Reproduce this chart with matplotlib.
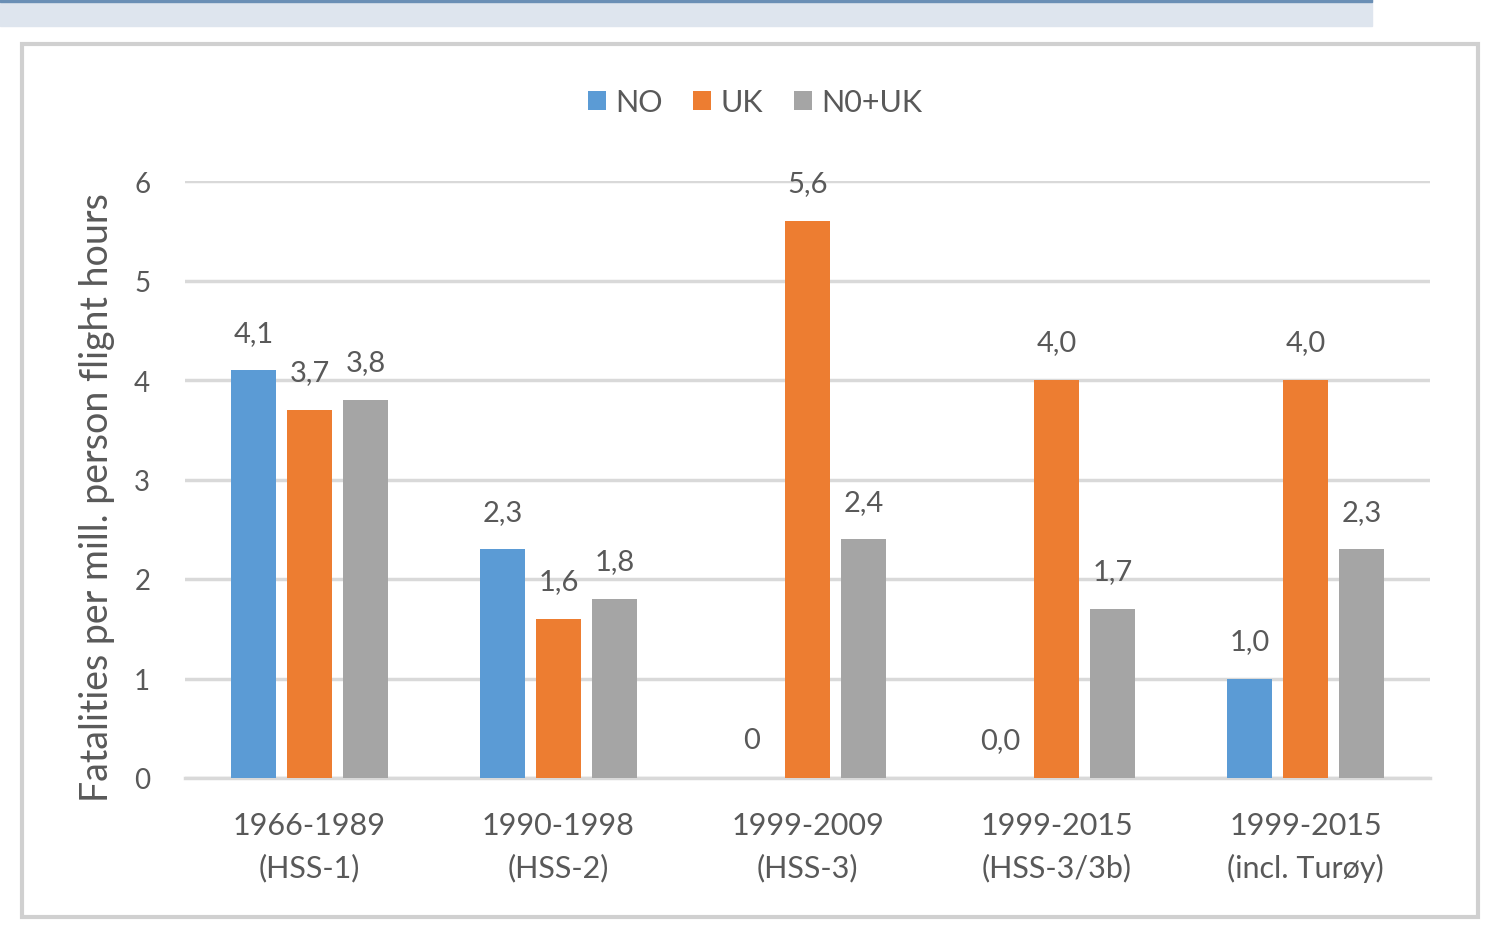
import matplotlib.pyplot as plt
import matplotlib.patches as mpatches
import numpy as np

plt.rcParams['font.family'] = ['Lato', 'DejaVu Sans']

# data
periods = ['1966-1989\n(HSS-1)', '1990-1998\n(HSS-2)', '1999-2009\n(HSS-3)',
           '1999-2015\n(HSS-3/3b)', '1999-2015\n(incl. Turøy)']
series = ['NO', 'UK', 'N0+UK']
no_vals = [4.1, 2.3, 0.0, 0.0, 1.0]
uk_vals = [3.7, 1.6, 5.6, 4.0, 4.0]
all_vals = [3.8, 1.8, 2.4, 1.7, 2.3]
no_labels = ['4,1', '2,3', '0', '0,0', '1,0']
uk_labels = ['3,7', '1,6', '5,6', '4,0', '4,0']
all_labels = ['3,8', '1,8', '2,4', '1,7', '2,3']
colors = ['#5B9BD5', '#ED7D31', '#A5A5A5']
txt = '#595959'

fig = plt.figure(figsize=(14.98, 9.37), dpi=100)

# screenshot surroundings: top strip and chart frame
fig.patches.append(mpatches.Rectangle((0, 1 - 27/937), 1372/1498, 27/937,
                                      transform=fig.transFigure, color='#DEE5EE', zorder=0))
fig.patches.append(mpatches.Rectangle((0, 1 - 3/937), 1372/1498, 3/937,
                                      transform=fig.transFigure, color='#6A8FB5', zorder=0))
fig.patches.append(mpatches.Rectangle((22/1498, 1 - 918/937), 1456/1498, 873/937,
                                      transform=fig.transFigure, facecolor='white',
                                      edgecolor='#D0D0D0', lw=3, zorder=0))

ax = fig.add_axes([185/1498, 1 - 779/937, 1245/1498, 597/937])
ax.set_zorder(2)
ax.set_facecolor('none')

x = np.arange(len(periods))
w = 0.177
step = 0.225
for i, (vals, labs) in enumerate(zip([no_vals, uk_vals, all_vals],
                                     [no_labels, uk_labels, all_labels])):
    pos = x + (i - 1) * step
    ax.bar(pos, vals, width=w, color=colors[i], label=series[i], zorder=3)
    for px, v, lab in zip(pos, vals, labs):
        ax.annotate(lab, (px, v), xytext=(0, 27), textcoords='offset points',
                    ha='center', va='center', fontsize=21, color=txt)

ax.set_xlim(-0.5, len(periods) - 0.5)
ax.set_ylim(0, 6)
ax.set_yticks(range(0, 7))
ax.yaxis.grid(True, color='#D9D9D9', lw=2.5, zorder=0)
for s in ['top', 'right', 'left']:
    ax.spines[s].set_visible(False)
ax.spines['bottom'].set_color('#D9D9D9')
ax.spines['bottom'].set_linewidth(2.5)
ax.set_xticks(x)
ax.set_xticklabels(periods, linespacing=1.55)
ax.tick_params(axis='both', length=0, labelsize=20, labelcolor=txt)
ax.tick_params(axis='x', labelsize=22, pad=24)
ax.tick_params(axis='y', pad=25)
ax.set_ylabel('Fatalities per mill. person flight hours', fontsize=27, color=txt)
ax.yaxis.set_label_coords(-0.056, 0.472)

ax.legend(loc='center', bbox_to_anchor=(755/1498, 1 - 103/937), bbox_transform=fig.transFigure,
          ncol=3, frameon=False, fontsize=22, labelcolor=txt, handlelength=0.6,
          handleheight=0.6, handletextpad=0.3, columnspacing=1.0)

fig.savefig('out.png', dpi=100)
